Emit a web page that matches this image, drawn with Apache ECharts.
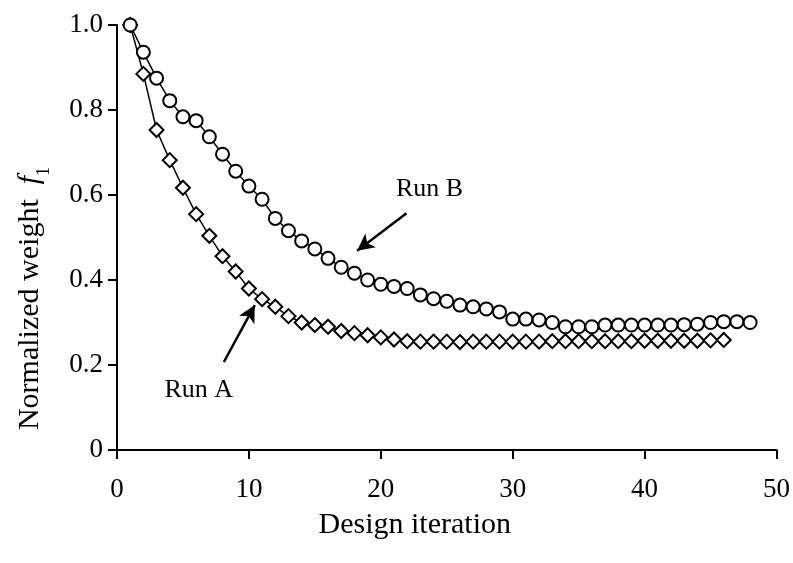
<!DOCTYPE html>
<html>
<head>
<meta charset="utf-8">
<script src="https://cdn.jsdelivr.net/npm/echarts@6/dist/echarts.min.js"></script>
<style>
  html, body { margin: 0; padding: 0; background: #fff; }
  #main { width: 793px; height: 563px; }
</style>
</head>
<body>
<div id="main"></div>
<script>
// design iterations
var iterA = [];
var iterB = [];
// normalized weight f1
var runA = [1.0, 0.885, 0.753, 0.682, 0.617, 0.555, 0.504, 0.456, 0.42, 0.38,
            0.355, 0.337, 0.315, 0.30, 0.294, 0.29, 0.28, 0.275, 0.27, 0.265,
            0.26, 0.256, 0.255, 0.255, 0.255, 0.254, 0.255, 0.255, 0.255, 0.255,
            0.255, 0.255, 0.256, 0.256, 0.256, 0.256, 0.256, 0.256, 0.256, 0.257,
            0.257, 0.257, 0.257, 0.257, 0.258, 0.259];
var runB = [1.0, 0.936, 0.875, 0.822, 0.784, 0.775, 0.737, 0.696, 0.656, 0.621,
            0.59, 0.545, 0.516, 0.492, 0.473, 0.451, 0.43, 0.416, 0.40, 0.39,
            0.385, 0.38, 0.365, 0.356, 0.35, 0.341, 0.337, 0.332, 0.325, 0.308,
            0.308, 0.306, 0.30, 0.29, 0.29, 0.29, 0.294, 0.294, 0.294, 0.294,
            0.294, 0.294, 0.295, 0.296, 0.30, 0.302, 0.302, 0.30];
for (var i = 0; i < runA.length; i++) iterA.push(i + 1);
for (var i = 0; i < runB.length; i++) iterB.push(i + 1);

var xTicks = [0, 10, 20, 30, 40, 50];
var yTicks = [0, 0.2, 0.4, 0.6, 0.8, 1.0];

// annotation arrows [from, to] and labels, in data units
var arrowA = [[8.1, 0.207], [10.45, 0.341]];
var arrowB = [[21.95, 0.557], [18.2, 0.469]];
var labelA = ['Run A', 6.2, 0.141];
var labelB = ['Run B', 23.7, 0.614];

var FONT = 'Liberation Serif';

function pairs(xs, ys) {
    var out = [];
    for (var i = 0; i < ys.length; i++) out.push([xs[i], ys[i]]);
    return out;
}

function textPoint(lbl) {
    return {
        coord: [lbl[1], lbl[2]],
        symbol: 'rect',
        symbolSize: 1,
        itemStyle: { color: 'transparent' },
        label: {
            show: true,
            position: 'inside',
            formatter: lbl[0],
            color: '#000',
            fontFamily: FONT,
            fontSize: 26
        }
    };
}

function arrowLine(a) {
    return [{ coord: a[0] }, { coord: a[1] }];
}

var dom = document.getElementById('main');
var myChart = echarts.init(dom, null, { renderer: 'canvas' });

var option = {
    animation: false,
    backgroundColor: '#fff',
    grid: { left: 117, right: 16, top: 25, bottom: 113 },
    xAxis: {
        type: 'value',
        min: xTicks[0],
        max: xTicks[xTicks.length - 1],
        interval: 10,
        name: 'Design iteration',
        nameLocation: 'middle',
        nameGap: 60,
        nameTextStyle: { color: '#000', fontFamily: FONT, fontSize: 30, padding: [0, 64, 0, 0] },
        axisLine: { lineStyle: { color: '#000', width: 2 } },
        axisTick: { show: true, inside: false, length: 9, lineStyle: { color: '#000', width: 2 } },
        axisLabel: { color: '#000', fontFamily: FONT, fontSize: 27, margin: 26 },
        splitLine: { show: false }
    },
    yAxis: {
        type: 'value',
        min: yTicks[0],
        max: yTicks[yTicks.length - 1],
        interval: 0.2,
        name: '{n|Normalized weight  }{f|f}{s|1}',
        nameLocation: 'middle',
        nameGap: 71,
        nameRotate: 90,
        nameTextStyle: {
            color: '#000',
            fontFamily: FONT,
            fontSize: 30,
            padding: [0, 122, 0, 0],
            rich: {
                n: { fontFamily: FONT, fontSize: 30, color: '#000', lineHeight: 32 },
                f: { fontFamily: FONT, fontSize: 30, fontStyle: 'italic', color: '#000', lineHeight: 32 },
                s: { fontFamily: FONT, fontSize: 18, color: '#000', verticalAlign: 'bottom', lineHeight: 32, padding: [0, 0, -7, 0] }
            }
        },
        axisLine: { show: true, lineStyle: { color: '#000', width: 2 } },
        axisTick: { show: true, inside: false, length: 9, lineStyle: { color: '#000', width: 2 } },
        axisLabel: {
            color: '#000', fontFamily: FONT, fontSize: 27, margin: 14,
            formatter: function (v) { return v === 0 ? '0' : v.toFixed(1); }
        },
        splitLine: { show: false }
    },
    series: [
        {
            name: 'Run A',
            type: 'line',
            data: pairs(iterA, runA),
            symbol: 'diamond',
            symbolSize: 14,
            showAllSymbol: true,
            lineStyle: { color: '#000', width: 1.5 },
            itemStyle: { color: '#fff', borderColor: '#000', borderWidth: 2 },
            markLine: {
                silent: true,
                symbol: ['none', 'arrow'],
                symbolSize: [13, 17],
                label: { show: false },
                lineStyle: { color: '#000', width: 2.5, type: 'solid' },
                data: [arrowLine(arrowA), arrowLine(arrowB)]
            },
            markPoint: {
                silent: true,
                data: [textPoint(labelA), textPoint(labelB)]
            },
            z: 2
        },
        {
            name: 'Run B',
            type: 'line',
            data: pairs(iterB, runB),
            symbol: 'circle',
            symbolSize: 13,
            showAllSymbol: true,
            lineStyle: { color: '#000', width: 1.5 },
            itemStyle: { color: '#fff', borderColor: '#000', borderWidth: 2 },
            z: 3
        }
    ]
};

if (option && typeof option === 'object') {
    myChart.setOption(option);
}
</script>
</body>
</html>
